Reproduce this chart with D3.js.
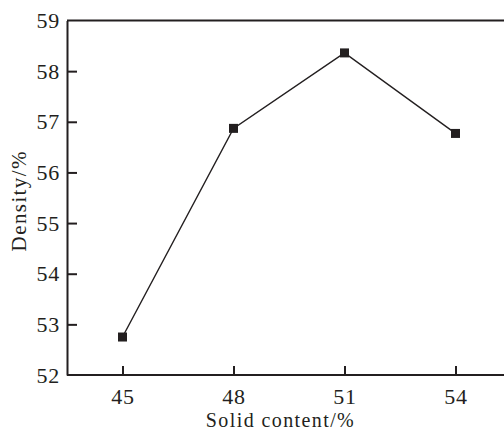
<!DOCTYPE html>
<html>
<head>
<meta charset="utf-8">
<script src="https://cdn.jsdelivr.net/npm/d3@7"></script>
<style>
  html, body { margin: 0; padding: 0; background: #fff; }
  svg { display: block; }
  text { font-family: "Liberation Serif", "Times New Roman", serif; fill: #231f20; }
</style>
</head>
<body>
<svg id="chart" width="504" height="432"></svg>
<script>
// Density versus solid content
const solidContent = [45, 48, 51, 54];
const density = [52.75, 56.87, 58.36, 56.77];
const xTicks = [45, 48, 51, 54];
const yTicks = [52, 53, 54, 55, 56, 57, 58, 59];

const W = 504, H = 432;
const ink = "#231f20";
const svg = d3.select("#chart");

const x = d3.scaleLinear().domain([43.5, 55.5]).range([67, 511]);
const y = d3.scaleLinear().domain([52, 59]).range([375, 20.5]);

const g = svg.append("g");

// top frame line
g.append("line")
  .attr("x1", x.range()[0]).attr("x2", W)
  .attr("y1", y(59)).attr("y2", y(59))
  .attr("stroke", ink).attr("stroke-width", 2);

// left axis with inward ticks
const yAxis = g.append("g")
  .attr("transform", `translate(${x.range()[0]},0)`)
  .call(d3.axisLeft(y).tickValues(yTicks).tickFormat(d3.format("d"))
    .tickSizeInner(-10).tickSizeOuter(0).tickPadding(7));

// bottom axis with inward ticks
const xAxis = g.append("g")
  .attr("transform", `translate(0,${y(52)})`)
  .call(d3.axisBottom(x).tickValues(xTicks).tickFormat(d3.format("d"))
    .tickSizeInner(-9).tickSizeOuter(0).tickPadding(13));

xAxis.select(".domain").attr("d", `M${x.range()[0]},0H${W}`);

[yAxis, xAxis].forEach(a => {
  a.select(".domain").attr("stroke", ink).attr("stroke-width", 2);
  a.selectAll(".tick line").attr("stroke", ink).attr("stroke-width", 2);
  a.selectAll(".tick text")
    .style("font-family", '"Liberation Serif", serif')
    .attr("font-size", 22).attr("fill", ink)
    .attr("letter-spacing", 0.8);
});
yAxis.selectAll(".tick line").filter(d => d === 52 || d === 59).remove();
xAxis.selectAll(".tick text").attr("dy", "0.71em");

// data line
const line = d3.line().x((d, i) => x(solidContent[i])).y(d => y(d));
g.append("path")
  .datum(density)
  .attr("d", line)
  .attr("fill", "none")
  .attr("stroke", ink)
  .attr("stroke-width", 1.4);

// square markers
const ms = 9;
g.selectAll("rect.pt")
  .data(density)
  .join("rect")
  .attr("class", "pt")
  .attr("x", (d, i) => x(solidContent[i]) - ms / 2)
  .attr("y", d => y(d) - ms / 2)
  .attr("width", ms).attr("height", ms)
  .attr("fill", ink);

// axis titles
svg.append("text")
  .attr("x", (x.range()[0] + 494) / 2)
  .attr("y", 427)
  .attr("text-anchor", "middle")
  .attr("font-size", 20)
  .attr("letter-spacing", 1.4)
  .text("Solid content/%");

svg.append("text")
  .attr("transform", `translate(26,${(y(52) + y(59)) / 2 + 3}) rotate(-90)`)
  .attr("text-anchor", "middle")
  .attr("font-size", 21)
  .attr("letter-spacing", 1.4)
  .text("Density/%");
</script>
</body>
</html>
